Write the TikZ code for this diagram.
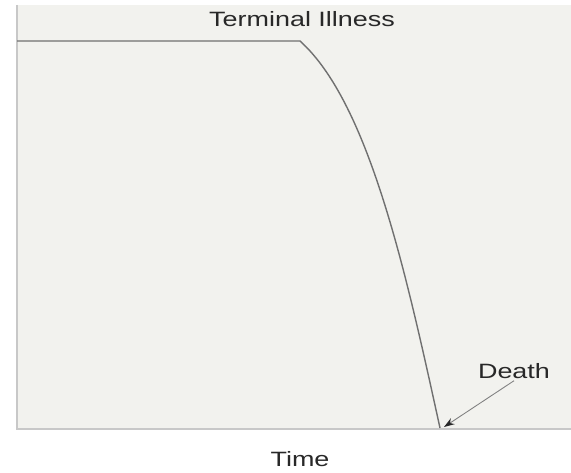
\documentclass[tikz,border=0pt]{standalone}
\usepackage{fontspec}
\setmainfont{Liberation Sans}
\newfontfamily\wideface[FakeStretch=1.3]{Liberation Sans}
\usetikzlibrary{arrows.meta}
\definecolor{panelbg}{RGB}{242,242,238}
\definecolor{curvegray}{RGB}{112,112,112}
\definecolor{axisgray}{RGB}{200,200,200}
\definecolor{textgray}{RGB}{40,40,40}
\tikzset{
  lbl/.style={text=textgray, inner sep=1pt, font=\wideface\fontsize{11.8}{13}\selectfont},
  curve/.style={draw=curvegray, line width=0.8pt},
  axis/.style={draw=axisgray, line width=1.1pt}
}
\begin{document}
\begin{tikzpicture}[x=0.02cm,y=-0.02cm]
\useasboundingbox (0,0) rectangle (571,473);

% Panel and axes
\fill[panelbg] (17,5) rectangle (571,429);
\draw[axis] (17,5) -- (17,429) -- (571,429);

% Plateau, then the steep decline
\draw[curve] (17,41) -- (300,41)
  .. controls (370,104) and (407,278) .. (440,428);

% Labels
\node[lbl] (title) at (302,19) {Terminal Illness};
\node[lbl] (time) at (300,459) {Time};
\node[lbl] (death) at (514,371) {Death};

% Pointer to the end of the curve
\coordinate (deathpt) at (444,427);
\draw[draw=gray, line width=0.5pt, -{Stealth[length=6pt,width=4pt,color=textgray]}] (death.south) -- (deathpt);
\end{tikzpicture}
\end{document}
